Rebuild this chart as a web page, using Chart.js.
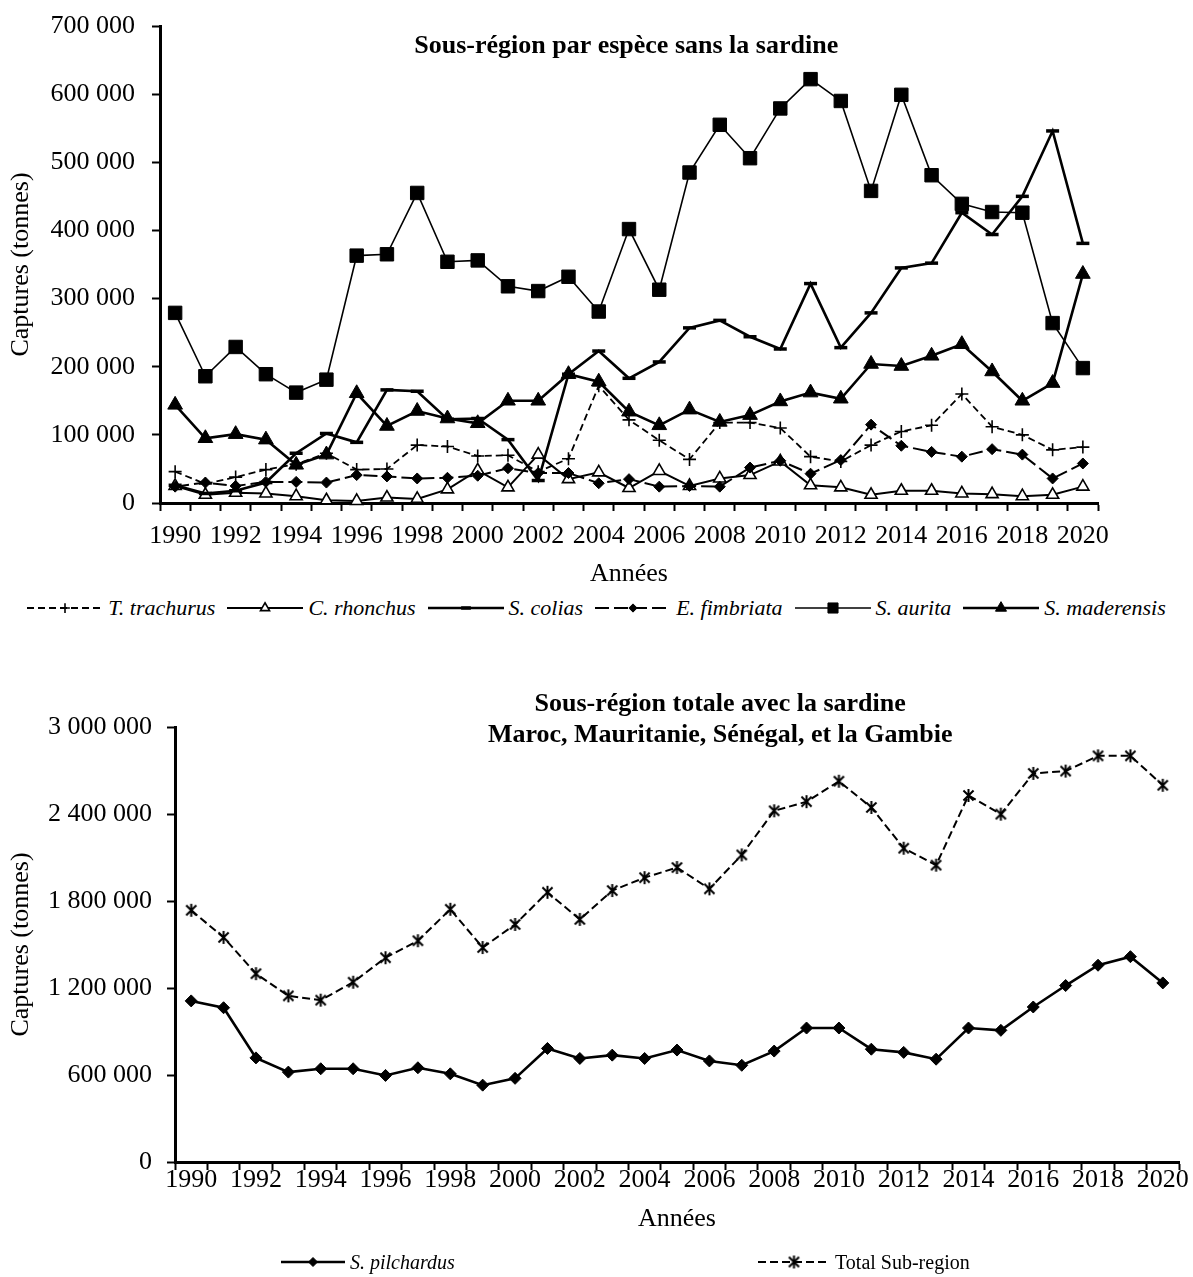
<!DOCTYPE html>
<html lang="fr">
<head>
<meta charset="utf-8">
<title>Captures par espèce</title>
<script src="https://cdn.jsdelivr.net/npm/chart.js@4.4.1/dist/chart.umd.min.js"></script>
<style>
  body { margin: 0; background: #fff; width: 1193px; height: 1277px; position: relative; overflow: hidden;
         font-family: "Liberation Serif", "Times New Roman", serif; color: #000; }
  .box { position: absolute; left: 0; width: 1193px; }
  #topBox { top: 0; height: 595px; }
  #bottomBox { top: 650px; height: 605px; }
  .legend { position: absolute; height: 26px; line-height: 26px; white-space: nowrap; }
  #legendTop { left: 0; width: 1193px; top: 595px; display: flex; justify-content: center; gap: 12px; font-size: 22px; }
  #legendBottom { left: 0; width: 1193px; top: 1249px; font-size: 20px; }
  .item { display: flex; align-items: center; }
  .item canvas { margin-right: 5px; }
  .it { font-style: italic; }
</style>
</head>
<body>
<div class="box" id="topBox"><canvas id="chartTop"></canvas></div>
<div class="legend" id="legendTop"></div>
<div class="box" id="bottomBox"><canvas id="chartBottom"></canvas></div>
<div class="legend" id="legendBottom"></div>

<script>
// catches in tonnes, 1990-2020
const years = ['1990', '1991', '1992', '1993', '1994', '1995', '1996', '1997', '1998', '1999',
  '2000', '2001', '2002', '2003', '2004', '2005', '2006', '2007', '2008', '2009',
  '2010', '2011', '2012', '2013', '2014', '2015', '2016', '2017', '2018', '2019', '2020'];

const trachurus = [46000, 28000, 38000, 49000, 57000, 73000, 49000, 50000, 85000, 83000,
  69000, 70000, 46000, 65000, 172000, 122000, 92000, 64000, 118000, 118000,
  110000, 68000, 61000, 85000, 105000, 114000, 160000, 112000, 100000, 78000, 82000];
const rhonchus = [25000, 12000, 15000, 14000, 10000, 4000, 3000, 8000, 6000, 20000,
  48000, 23000, 71000, 35000, 45000, 22000, 47000, 25000, 36000, 41000,
  61000, 26000, 23000, 12000, 18000, 18000, 14000, 13000, 10000, 12000, 24000];
const colias = [26000, 14000, 18000, 30000, 73000, 102000, 89000, 166000, 164000, 123000,
  124000, 93000, 33000, 189000, 223000, 183000, 207000, 257000, 268000, 244000,
  226000, 322000, 228000, 279000, 345000, 352000, 426000, 394000, 450000, 546000, 381000];
const fimbriata = [24000, 30000, 25000, 31000, 31000, 30000, 41000, 39000, 36000, 37000,
  40000, 51000, 44000, 44000, 29000, 35000, 24000, 25000, 24000, 52000,
  62000, 43000, 63000, 115000, 84000, 75000, 68000, 79000, 71000, 36000, 58000];
const aurita = [279000, 186000, 229000, 189000, 162000, 181000, 363000, 365000, 455000, 354000,
  356000, 318000, 311000, 332000, 281000, 402000, 313000, 485000, 555000, 506000,
  579000, 622000, 590000, 458000, 599000, 481000, 439000, 427000, 426000, 264000, 198000];
const maderensis = [144000, 95000, 101000, 93000, 56000, 71000, 161000, 113000, 135000, 124000,
  117000, 150000, 150000, 189000, 178000, 134000, 114000, 137000, 119000, 129000,
  149000, 162000, 153000, 204000, 201000, 216000, 233000, 193000, 150000, 176000, 336000];

const pilchardus = [1111000, 1064000, 718000, 620000, 643000, 643000, 597000, 650000, 608000, 530000,
  577000, 783000, 714000, 737000, 714000, 772000, 697000, 667000, 765000, 924000,
  924000, 778000, 756000, 709000, 924000, 908000, 1069000, 1217000, 1357000, 1416000, 1235000];
const totalSubRegion = [1736000, 1549000, 1299000, 1146000, 1116000, 1240000, 1409000, 1526000, 1743000, 1479000,
  1638000, 1860000, 1673000, 1872000, 1961000, 2031000, 1884000, 2118000, 2422000, 2485000,
  2626000, 2445000, 2164000, 2047000, 2528000, 2399000, 2680000, 2696000, 2801000, 2801000, 2598000];

const FONT = '"Liberation Serif", "Times New Roman", serif';
Chart.defaults.font.family = FONT;
Chart.defaults.font.size = 26;
Chart.defaults.color = '#000';

// 700000 -> "700 000"
function spaced(v) {
  return String(v).replace(/\B(?=(\d{3})+(?!\d))/g, ' ');
}

// asterisk marker: vertical bar plus an X
function starMarker(size) {
  const c = document.createElement('canvas');
  c.width = size; c.height = size;
  const g = c.getContext('2d');
  const m = size / 2, r = size / 2 - 1, d = r * 0.78;
  g.strokeStyle = '#000';
  g.lineWidth = 2;
  g.beginPath();
  g.moveTo(m, m - r); g.lineTo(m, m + r);
  g.moveTo(m - d, m - d); g.lineTo(m + d, m + d);
  g.moveTo(m + d, m - d); g.lineTo(m - d, m + d);
  g.stroke();
  return c;
}

function series(label, data, style) {
  return Object.assign({
    label, data,
    borderColor: '#000', pointBorderColor: '#000', pointBackgroundColor: '#000',
    tension: 0, fill: false, clip: false
  }, style);
}

// draws the title lines inside the plot area
const inlineTitle = {
  id: 'inlineTitle',
  afterDraw(chart, args, opts) {
    const { ctx, chartArea } = chart;
    ctx.save();
    ctx.font = 'bold 26px ' + FONT;
    ctx.fillStyle = '#000';
    ctx.textAlign = 'center';
    ctx.textBaseline = 'alphabetic';
    const cx = chartArea.left + (chartArea.right - chartArea.left) * opts.xFrac;
    opts.lines.forEach((t, i) => ctx.fillText(t, cx, chartArea.top + opts.y + i * 31));
    ctx.restore();
  }
};

function scales(yMax, yStep, yWidth, yPad, xHeight, xPad, xTitlePad) {
  return {
    x: {
      type: 'category',
      offset: true,
      grid: { display: true, offset: true, drawOnChartArea: false, drawTicks: true,
              tickLength: 8, tickWidth: 2, tickColor: '#000' },
      border: { display: true, color: '#000', width: 3 },
      ticks: { autoSkip: false, maxRotation: 0, minRotation: 0, padding: xPad,
               font: { size: 26 }, color: '#000',
               callback: (v, i) => (i % 2 === 0 ? years[i] : '') },
      title: { display: true, text: 'Années', font: { size: 26 }, color: '#000',
               padding: { top: 0, bottom: xTitlePad } },
      afterFit(scale) {
        scale.height = xHeight;
        scale.paddingLeft = 0;
        scale.paddingRight = 0;
      }
    },
    y: {
      min: 0, max: yMax,
      grid: { display: true, drawOnChartArea: false, drawTicks: true,
              tickLength: 8, tickWidth: 2, tickColor: '#000' },
      border: { display: true, color: '#000', width: 3 },
      ticks: { stepSize: yStep, padding: yPad, font: { size: 26 }, color: '#000',
               callback: (v) => spaced(v) },
      title: { display: true, text: 'Captures (tonnes)', font: { size: 26 }, color: '#000',
               padding: { top: 6, bottom: 0 } },
      afterFit(scale) {
        scale.width = yWidth;
        scale.paddingTop = 0;
        scale.paddingBottom = 0;
      }
    }
  };
}

const baseOptions = {
  responsive: true,
  maintainAspectRatio: false,
  animation: false,
  events: [],
  plugins: { legend: { display: false }, tooltip: { enabled: false } }
};

const topSets = [
  series('T. trachurus', trachurus, { borderWidth: 1.8, borderDash: [7, 4], pointStyle: 'cross',
    pointRadius: 6.5, pointBorderWidth: 1.6, order: 5 }),
  series('C. rhonchus', rhonchus, { borderWidth: 2, pointStyle: 'triangle', pointRadius: 7,
    pointBackgroundColor: '#fff', pointBorderWidth: 1.6, order: 4 }),
  series('S. colias', colias, { borderWidth: 2.6, pointStyle: 'line', pointRadius: 6.5,
    pointBorderWidth: 3.5, order: 3 }),
  series('E. fimbriata', fimbriata, { borderWidth: 2, borderDash: [14, 5], pointStyle: 'rectRot',
    pointRadius: 5.5, pointBorderWidth: 1, order: 2 }),
  series('S. aurita', aurita, { borderWidth: 1.6, pointStyle: 'rect', pointRadius: 9.5,
    pointBorderWidth: 1, order: 1 }),
  series('S. maderensis', maderensis, { borderWidth: 2.6, pointStyle: 'triangle', pointRadius: 8.5,
    pointBorderWidth: 1, order: 0 })
];

const bottomSets = [
  series('S. pilchardus', pilchardus, { borderWidth: 2.6, pointStyle: 'rectRot', pointRadius: 6,
    pointBorderWidth: 1, order: 1 }),
  series('Total Sub-region', totalSubRegion, { borderWidth: 2, borderDash: [8, 4],
    pointStyle: starMarker(15), pointRadius: 7, pointBorderWidth: 0, order: 0 })
];

new Chart(document.getElementById('chartTop'), {
  type: 'line',
  data: { labels: years, datasets: topSets },
  options: Object.assign({}, baseOptions, {
    layout: { padding: { top: 26, right: 95, bottom: 0, left: 0 } },
    scales: scales(700000, 100000, 160, 17, 92, 10, 5),
    plugins: Object.assign({}, baseOptions.plugins, {
      inlineTitle: { lines: ['Sous-région par espèce sans la sardine'], xFrac: 0.497, y: 27 }
    })
  }),
  plugins: [inlineTitle]
});

new Chart(document.getElementById('chartBottom'), {
  type: 'line',
  data: { labels: years, datasets: bottomSets },
  options: Object.assign({}, baseOptions, {
    layout: { padding: { top: 77, right: 14, bottom: 0, left: 0 } },
    scales: scales(3000000, 600000, 175, 15, 93, -5, 20),
    plugins: Object.assign({}, baseOptions.plugins, {
      inlineTitle: { lines: ['Sous-région totale avec la sardine',
                             'Maroc, Mauritanie, Sénégal, et la Gambie'], xFrac: 0.543, y: -16 }
    })
  }),
  plugins: [inlineTitle]
});

// legend sample: a stretch of the series line with its marker in the middle
function swatch(ds, w, h) {
  const c = document.createElement('canvas');
  c.width = w; c.height = h;
  const g = c.getContext('2d');
  g.strokeStyle = '#000';
  g.lineWidth = ds.borderWidth;
  g.setLineDash(ds.borderDash || []);
  g.beginPath(); g.moveTo(0, h / 2); g.lineTo(w, h / 2); g.stroke();
  g.setLineDash([]);
  g.fillStyle = ds.pointBackgroundColor;
  g.strokeStyle = ds.pointBorderColor;
  g.lineWidth = ds.pointBorderWidth;
  Chart.helpers.drawPoint(g, { pointStyle: ds.pointStyle, radius: ds.pointRadius * 0.75,
    borderWidth: ds.pointBorderWidth, rotation: 0 }, w / 2, h / 2);
  return c;
}

function legendItem(ds, w, italic) {
  const el = document.createElement('div');
  el.className = 'item';
  el.appendChild(swatch(ds, w, 20));
  const t = document.createElement('span');
  if (italic) t.className = 'it';
  t.textContent = ds.label;
  el.appendChild(t);
  return el;
}

const legendTop = document.getElementById('legendTop');
topSets.forEach(ds => legendTop.appendChild(legendItem(ds, 76, true)));

const legendBottom = document.getElementById('legendBottom');
const lb1 = legendItem(bottomSets[0], 64, true);
lb1.style.position = 'absolute'; lb1.style.left = '281px';
const lb2 = legendItem(bottomSets[1], 72, false);
lb2.style.position = 'absolute'; lb2.style.left = '758px';
legendBottom.appendChild(lb1);
legendBottom.appendChild(lb2);
</script>
</body>
</html>
